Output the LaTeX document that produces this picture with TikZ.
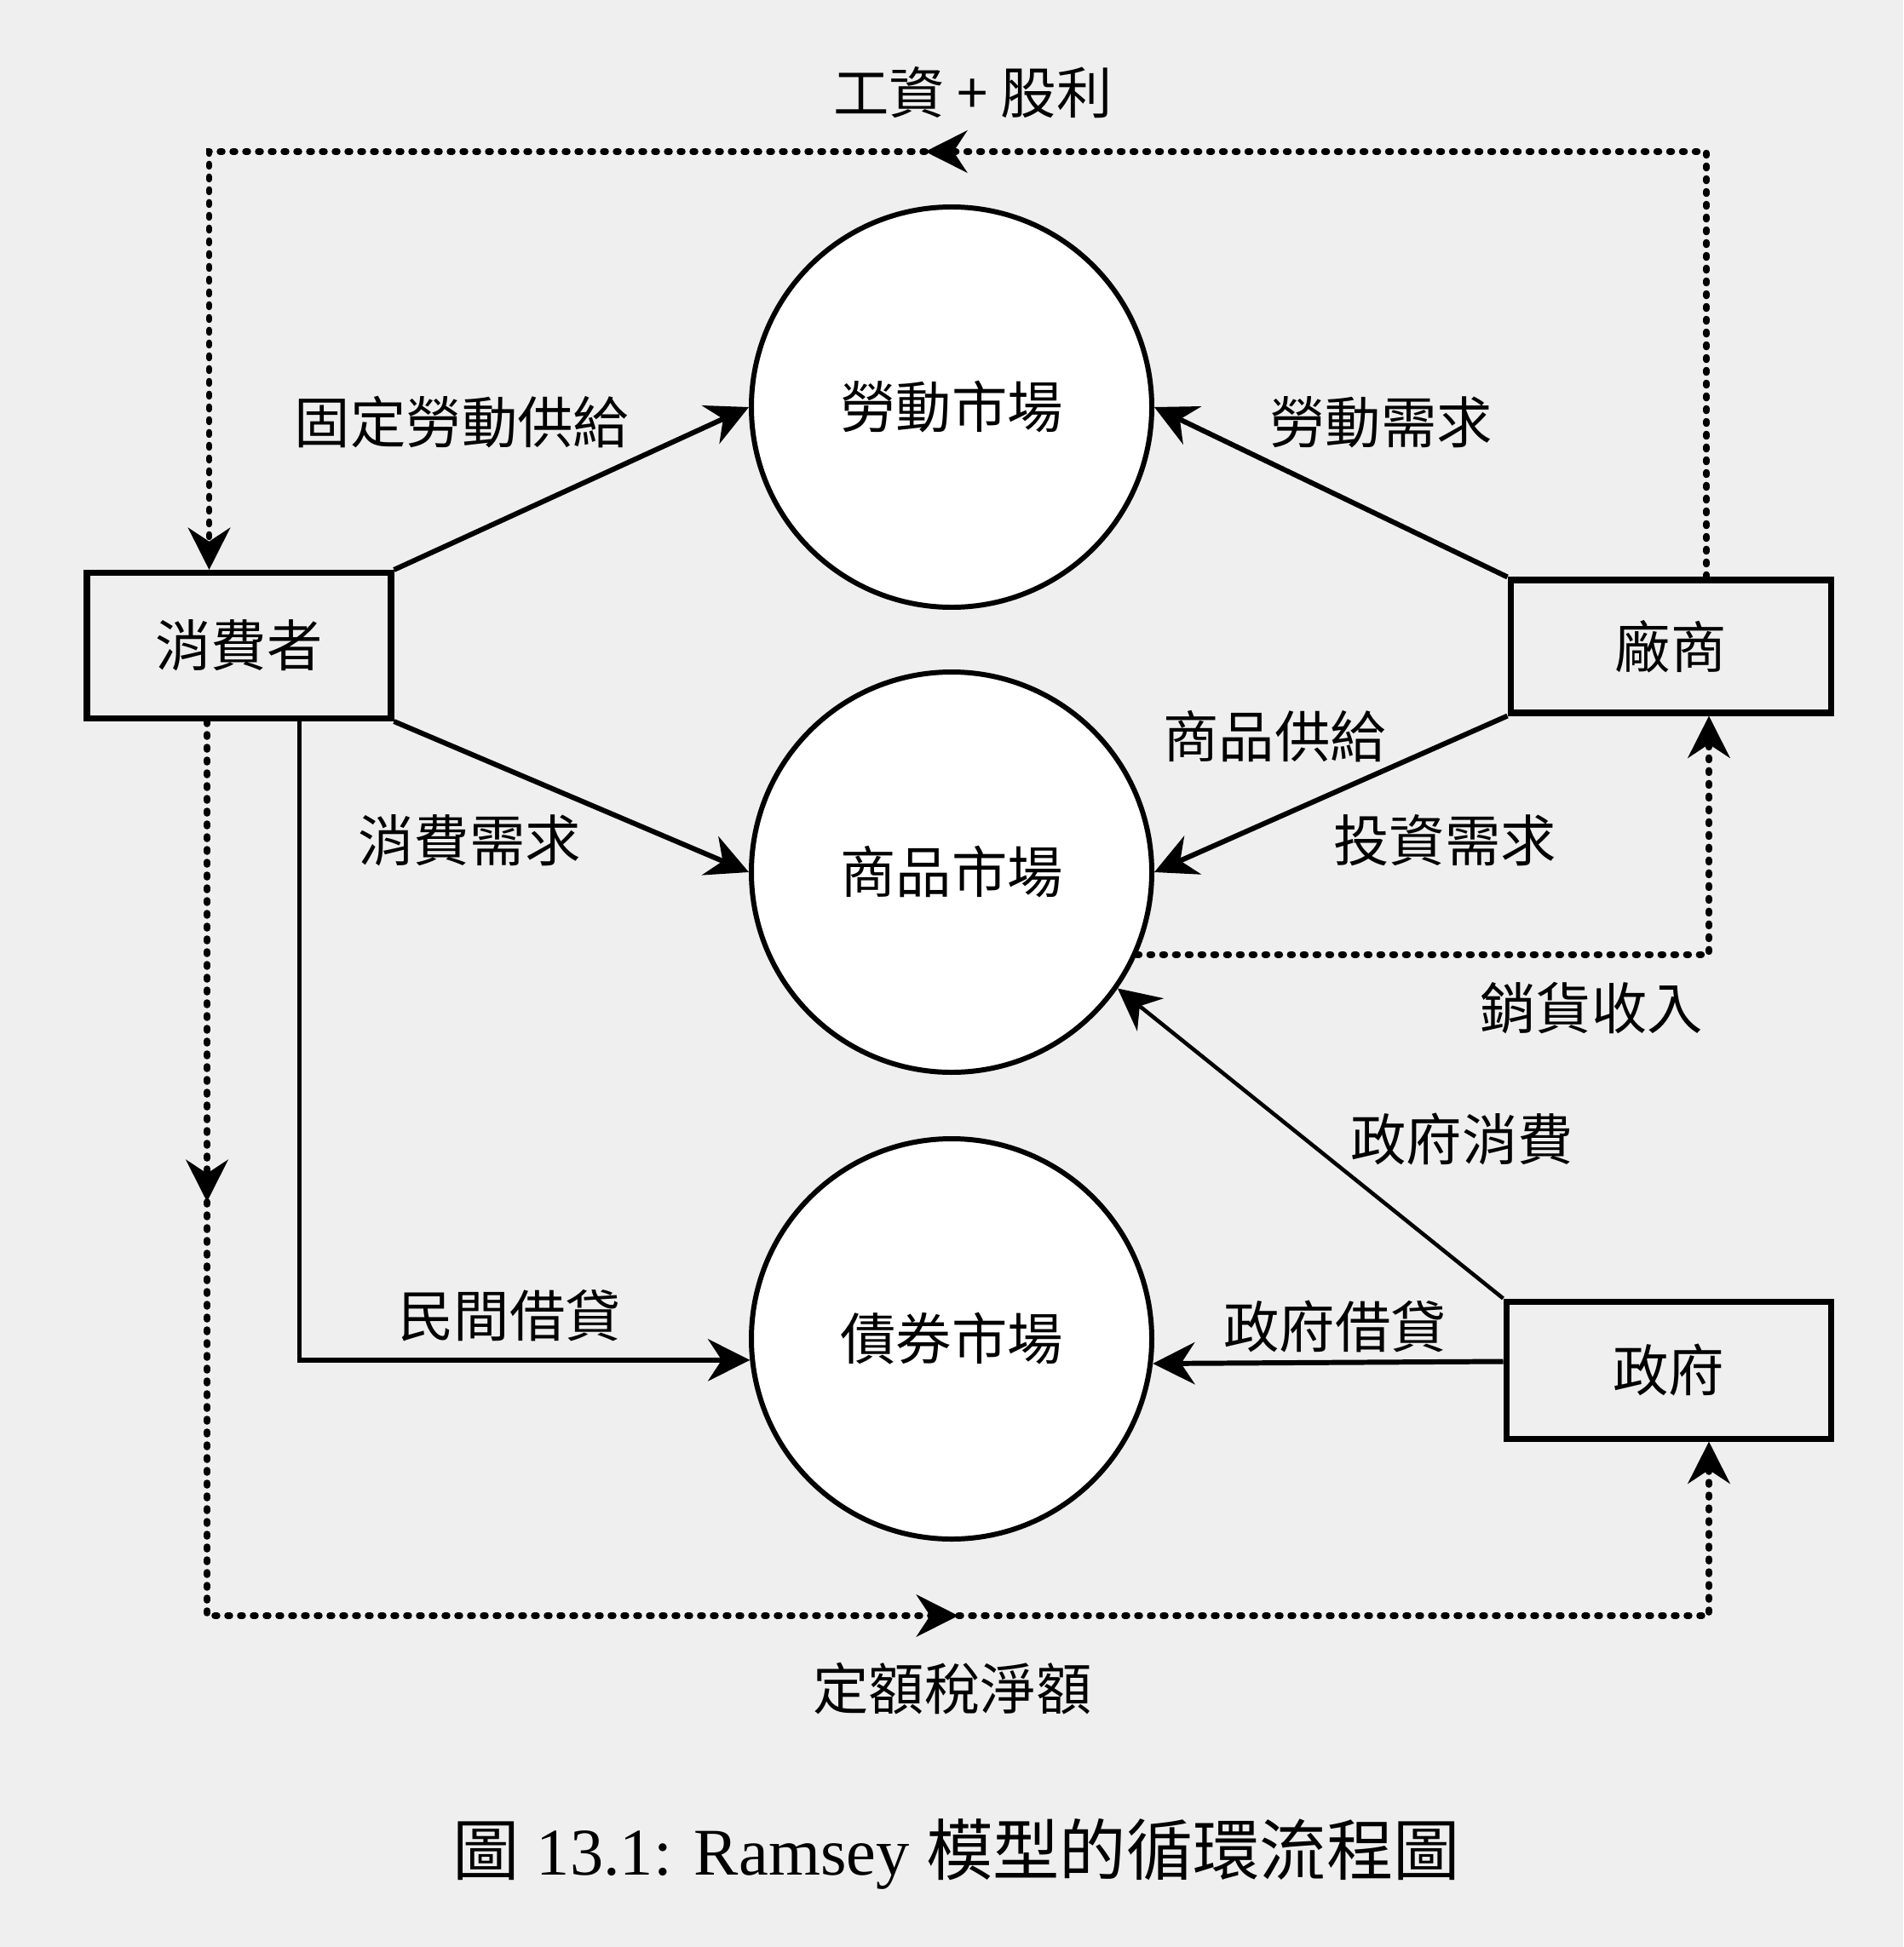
\documentclass[tikz,border=0pt]{standalone}
\usepackage{fontspec}
\newfontfamily\cjk{Noto Sans CJK TC}
\newfontfamily\latinfont{Liberation Serif}
\usetikzlibrary{arrows.meta,positioning}
\definecolor{bgcolor}{HTML}{EFEFEF}
\newcommand{\labelfont}{\cjk\fontsize{18.6}{22}\selectfont}
\tikzset{
    agent/.style={
        shape=rectangle,
        draw=black,
        line width=2pt,
        align=center,
        inner sep=0pt,
        font=\labelfont
    },
    market/.style={
        shape=circle,
        draw=black,
        fill=white,
        line width=1.7pt,
        minimum size=4.7cm,
        inner sep=0pt,
        font=\labelfont
    },
    flowlabel/.style={
        inner sep=0pt,
        font=\labelfont
    },
    flow/.style={
        line width=1.7pt,
        -{Stealth[length=14pt, width=14pt]}
    },
    money/.style={
        line width=0.075cm,
        line cap=round,
        dash pattern=on 0.03cm off 0.12cm,
        -{Stealth[length=14pt, width=14pt]}
    }
}
\begin{document}
\begin{tikzpicture}
    \fill[bgcolor] (0,0) rectangle (22.34,-22.86);
    \useasboundingbox (0,0) rectangle (22.34,-22.86);

    \node[agent, minimum width=3.57cm, minimum height=1.71cm] (consumer) at (2.805,-7.58) {消費者};
    \node[agent, minimum width=3.76cm, minimum height=1.56cm] (firm) at (19.61,-7.59) {廠商};
    \node[agent, minimum width=3.81cm, minimum height=1.61cm] (gov) at (19.585,-16.085) {政府};

    \node[market] (labor) at (11.17,-4.78) {勞動市場};
    \node[market] (goods) at (11.17,-10.24) {商品市場};
    \node[market] (bond) at (11.17,-15.72) {債券市場};

    \coordinate (wage) at (10.86,-1.78);
    \coordinate (taxdown) at (2.43,-14.11);
    \coordinate (tax) at (11.25,-18.97);

    \begin{scope} % real flows
    	\draw[flow] 
    	(consumer.north east) 
    	to 
    	(labor.west);
    	
    	\draw[flow] 
    	(consumer.south east) 
    	to 
    	(goods.west);
    	
    	\draw[flow] 
    	(firm.north west) 
    	to 
    	(labor.east);
    	
    	\draw[flow] 
    	(firm.south west) 
    	to 
    	(goods.east);
    	
    	\draw[flow, line width=1.3pt] 
    	(gov.north west) 
    	to 
    	(goods.-35);
    	
    	\draw[flow] 
    	([yshift=0.1cm]gov.west) 
    	to 
    	(bond.-7);
    	
    	\draw[flow] 
    	([xshift=0.71cm]consumer.south) 
    	|- 
    	(bond.186);
    \end{scope}
    \begin{scope} % money flows
    	\draw[money] ([xshift=0.42cm]firm.north) |- (wage);
    	\draw[money] (wage) -| ([xshift=-0.35cm]consumer.north);
    	
    	\draw[money] ([xshift=-0.375cm]consumer.south) -- (taxdown);
    	\draw[money] (taxdown) |- (tax);
    	\draw[money] (tax) -| ([xshift=0.475cm]gov.south);
    	
    	\draw[money] (goods.-24) -| ([xshift=0.45cm]firm.south);
    \end{scope}

    \node[flowlabel] (wagelabel) at (11.42,-1.09) {工資 + 股利};
    \node[flowlabel] (lsupply) at (5.42,-4.96) {固定勞動供給};
    \node[flowlabel] (ldemand) at (16.21,-4.96) {勞動需求};
    \node[flowlabel] (gsupply) at (14.96,-8.65) {商品供給};
    \node[flowlabel] (cdemand) at (5.51,-9.87) {消費需求};
    \node[flowlabel] (idemand) at (16.96,-9.87) {投資需求};
    \node[flowlabel] (saleslabel) at (18.68,-11.84) {銷貨收入};
    \node[flowlabel] (gconsume) at (17.16,-13.37) {政府消費};
    \node[flowlabel] (plending) at (5.98,-15.45) {民間借貸};
    \node[flowlabel] (glending) at (15.67,-15.57) {政府借貸};
    \node[flowlabel] (taxlabel) at (11.18,-19.83) {定額稅淨額};

    \node[inner sep=0pt, font=\latinfont\fontsize{22.3}{26}\selectfont] (caption) at (11.23,-21.77)
    	{{\cjk 圖} 13.1: Ramsey {\cjk 模型的循環流程圖}};
\end{tikzpicture}
\end{document}
